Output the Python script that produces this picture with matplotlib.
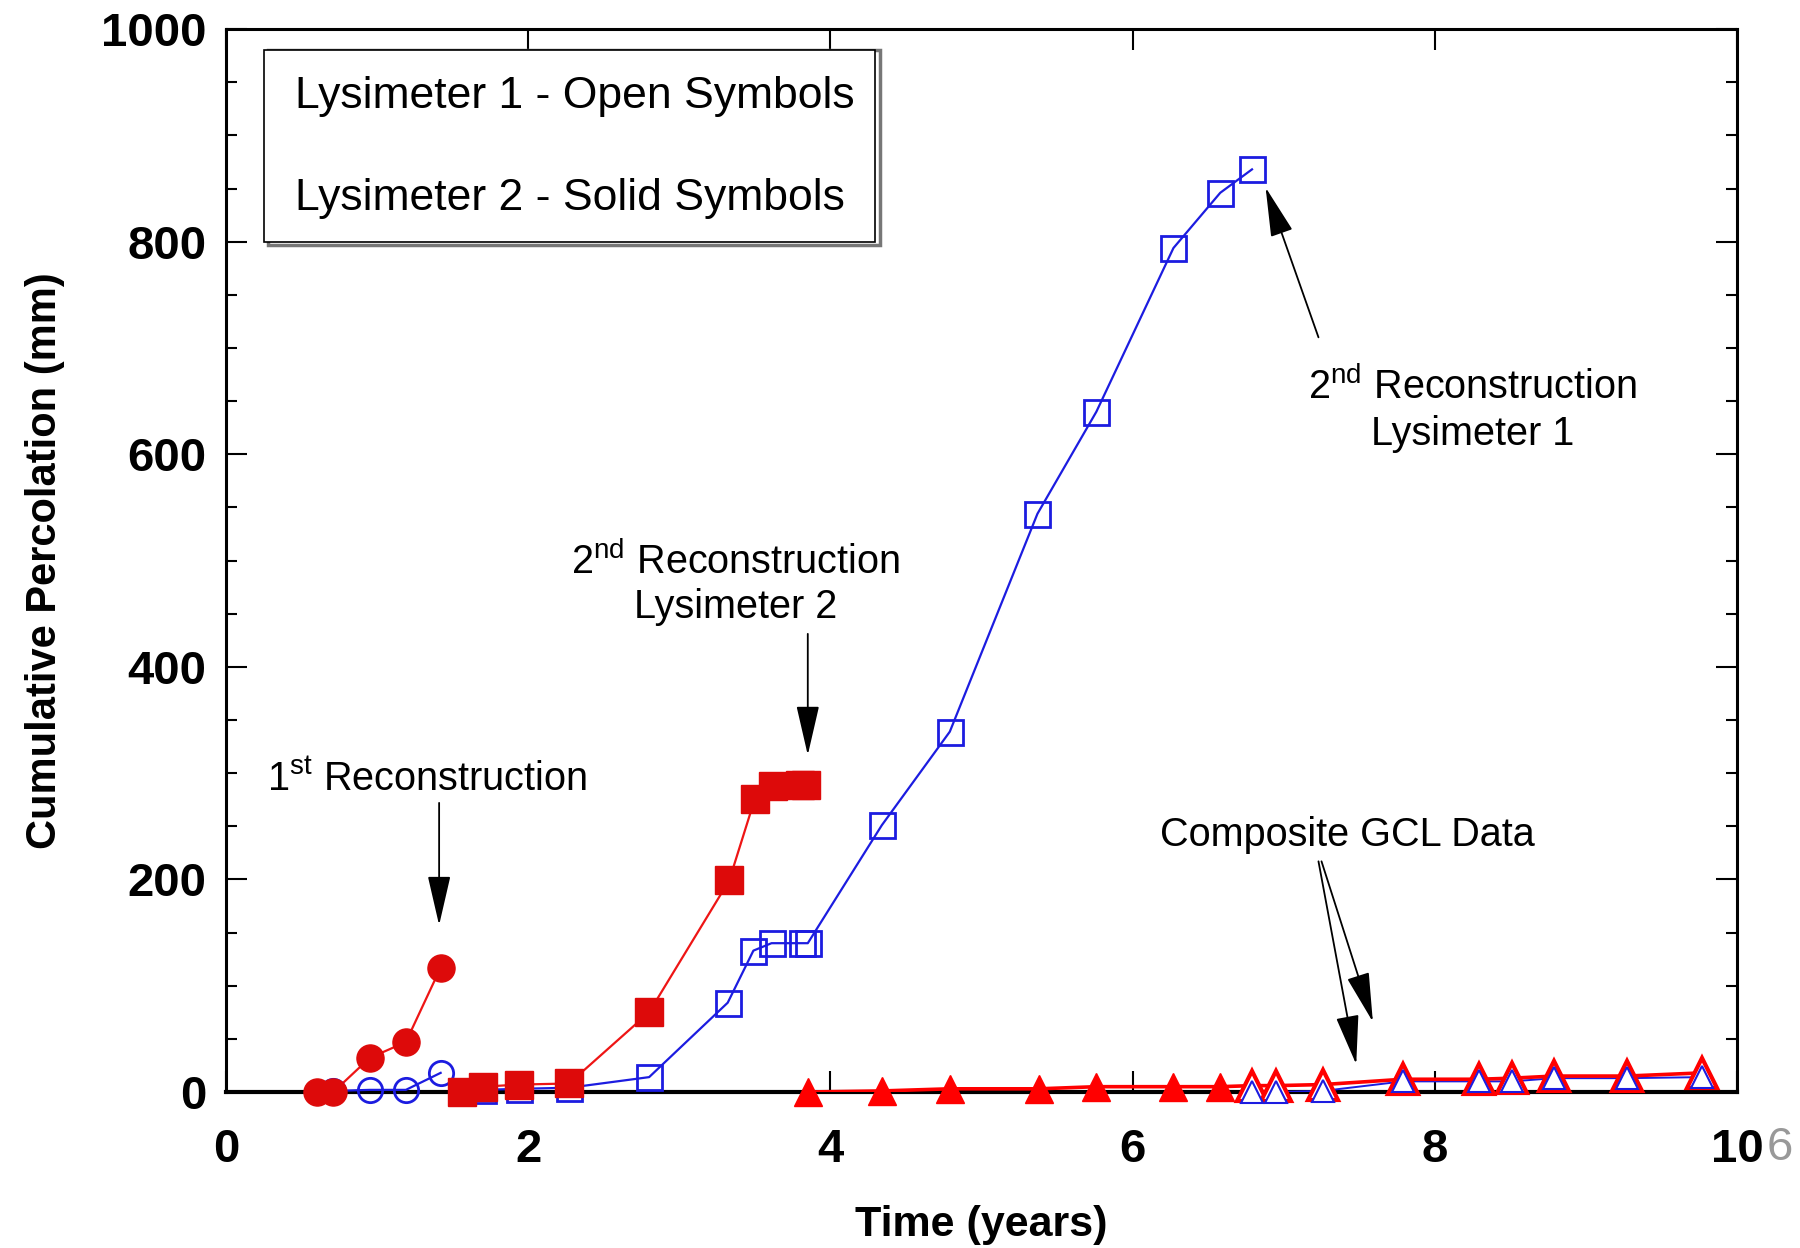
import matplotlib
matplotlib.use("Agg")
import matplotlib.pyplot as plt
from matplotlib.patches import Rectangle
from matplotlib.ticker import MultipleLocator

plt.rcParams['mathtext.fontset'] = 'custom'
plt.rcParams['mathtext.rm'] = 'Liberation Sans'
plt.rcParams['mathtext.it'] = 'Liberation Sans:italic'
plt.rcParams['mathtext.bf'] = 'Liberation Sans:bold'

NARROW = ['Liberation Sans Narrow', 'Liberation Sans', 'DejaVu Sans']
REG = ['Liberation Sans', 'DejaVu Sans']

# ---------------- data (time in years, cumulative percolation in mm) -------------
# 1st reconstruction
r1_lys2_t = [0.60, 0.71, 0.95, 1.19, 1.42]
r1_lys2_p = [0, 0, 32, 47, 117]
r1_lys1_t = [0.71, 0.95, 1.19, 1.42]
r1_lys1_p = [1, 2, 2, 18]

# 2nd reconstruction
r2_lys2_t = [1.56, 1.70, 1.94, 2.27, 2.80, 3.33, 3.50, 3.62, 3.80, 3.84]
r2_lys2_p = [0, 5, 7, 8, 75, 199, 276, 288, 289, 289]
r2_lys1_t = [1.70, 1.94, 2.27, 2.80, 3.32, 3.49, 3.61, 3.81, 3.85,
             4.34, 4.79, 5.37, 5.76, 6.27, 6.58, 6.79]
r2_lys1_p = [2, 3, 4, 14, 84, 133, 140, 140, 140,
             251, 339, 544, 640, 794, 846, 868]

# Composite GCL data
gcl_lys2_t = [3.85, 4.34, 4.79, 5.38, 5.76, 6.27, 6.58,
              6.79, 6.95, 7.26, 7.79, 8.29, 8.51, 8.79, 9.27, 9.77]
gcl_lys2_p = [0, 1, 3, 3, 5, 5, 5,
              6, 6, 7, 12, 12, 13, 15, 15, 18]
gcl_lys2_solid = 7  # first points drawn as solid symbols
gcl_lys1_t = [6.79, 6.95, 7.26, 7.79, 8.29, 8.51, 8.79, 9.27, 9.77]
gcl_lys1_p = [0, 0, 1, 10, 10, 10, 13, 13, 14]

x_ticks = [0, 2, 4, 6, 8, 10]
y_ticks = [0, 200, 400, 600, 800, 1000]

RED = '#dd0a0a'
RED_L = '#ee1515'
TRI_RED = '#ff0000'
BLUE = '#1c1ce0'

fig = plt.figure(figsize=(18, 12.48), dpi=100)
ax = fig.add_axes([0.1256, 0.125, 0.8394, 0.8517])

# lines + markers
ax.plot(r1_lys1_t, r1_lys1_p, '-', color=BLUE, lw=1.6, zorder=3)
ax.plot(r1_lys1_t, r1_lys1_p, 'o', ms=17.5, mfc='none', mec=BLUE, mew=2, zorder=4, clip_on=False)
ax.plot(r1_lys2_t, r1_lys2_p, '-', color=RED_L, lw=1.6, zorder=3)
ax.plot(r1_lys2_t, r1_lys2_p, 'o', ms=19.5, color=RED, zorder=5, clip_on=False)

ax.plot(r2_lys1_t, r2_lys1_p, '-', color=BLUE, lw=1.6, zorder=3)
ax.plot(r2_lys1_t, r2_lys1_p, 's', ms=18, mfc='none', mec=BLUE, mew=2, zorder=4, clip_on=False)
ax.plot(r2_lys2_t, r2_lys2_p, '-', color=RED_L, lw=1.6, zorder=3)
ax.plot(r2_lys2_t, r2_lys2_p, 's', ms=20, color=RED, zorder=5, clip_on=False)

ax.plot(gcl_lys1_t, gcl_lys1_p, '-', color=BLUE, lw=1.4, zorder=3)
ax.plot(gcl_lys2_t, gcl_lys2_p, '-', color=TRI_RED, lw=2.6, zorder=3)
ax.plot(gcl_lys2_t[:gcl_lys2_solid], gcl_lys2_p[:gcl_lys2_solid], '^', ms=20,
        color=TRI_RED, zorder=5, clip_on=False)
ax.plot(gcl_lys2_t[gcl_lys2_solid:], gcl_lys2_p[gcl_lys2_solid:], '^', ms=21,
        mfc='white', mec=TRI_RED, mew=3, zorder=5, clip_on=False)
ax.plot(gcl_lys1_t, gcl_lys1_p, '^', ms=16, mfc='white', mec=BLUE, mew=1.5,
        zorder=6, clip_on=False)

# axes styling
ax.set_xlim(0, 10)
ax.set_ylim(0, 1000)
ax.set_xticks(x_ticks)
ax.set_yticks(y_ticks)
ax.yaxis.set_minor_locator(MultipleLocator(50))
ax.tick_params(which='major', direction='in', length=15, width=1.5, top=True, right=True)
ax.tick_params(which='minor', direction='in', length=8, width=1.5, left=True, right=True)
ax.tick_params(axis='x', pad=26)
ax.tick_params(axis='y', pad=14)
for lab in ax.get_xticklabels() + ax.get_yticklabels():
    lab.set_fontfamily(NARROW)
    lab.set_fontsize(34)
    lab.set_fontweight('bold')
for s in ax.spines.values():
    s.set_linewidth(2.2)
ax.spines['bottom'].set_linewidth(3)

ax.set_xlabel('Time (years)', fontsize=31, fontweight='bold', family=NARROW, labelpad=24)
ax.set_ylabel('Cumulative Percolation (mm)', fontsize=30, fontweight='bold', family=NARROW, labelpad=26)

# stray gray "6" next to the last tick label
fig.text(0.989, 0.080, '6', color='#999999', fontsize=34, family=NARROW,
         ha='center', va='center')

# legend-like box
ax.add_patch(Rectangle((0.028, 0.797), 0.4045, 0.183, transform=ax.transAxes,
                       fill=False, ec='#777777', lw=2.5, zorder=6))
ax.add_patch(Rectangle((0.025, 0.800), 0.4045, 0.180, transform=ax.transAxes,
                       facecolor='white', ec='black', lw=1.2, zorder=7))
ax.text(0.0456, 0.9370, 'Lysimeter 1 - Open Symbols', transform=ax.transAxes,
        fontsize=32, family=REG, va='center', ha='left', zorder=8)
ax.text(0.0456, 0.8405, 'Lysimeter 2 - Solid Symbols', transform=ax.transAxes,
        fontsize=32, family=REG, va='center', ha='left', zorder=8)

# annotations
TXT = dict(fontsize=28.5, family=REG, zorder=8)
ax.text(0.27, 294, r'1$^{\mathrm{st}}$ Reconstruction', ha='left', va='center', **TXT)
ax.text(3.37, 499, r'2$^{\mathrm{nd}}$ Reconstruction', ha='center', va='center', **TXT)
ax.text(3.37, 456, 'Lysimeter 2', ha='center', va='center', **TXT)
ax.text(8.25, 663, r'2$^{\mathrm{nd}}$ Reconstruction', ha='center', va='center', **TXT)
ax.text(8.25, 619, 'Lysimeter 1', ha='center', va='center', **TXT)
ax.text(7.42, 242, 'Composite GCL Data', ha='center', va='center', **TXT)

AP = dict(arrowstyle='-|>,head_length=1.3,head_width=0.3', color='black', lw=1.3,
          mutation_scale=24, shrinkA=0, shrinkB=0)
ax.annotate('', xy=(1.41, 157), xytext=(1.41, 272), arrowprops=AP, zorder=8)
ax.annotate('', xy=(3.85, 317), xytext=(3.85, 431), arrowprops=AP, zorder=8)
ax.annotate('', xy=(6.88, 851), xytext=(7.23, 710), arrowprops=AP, zorder=8)
ax.annotate('', xy=(7.48, 26), xytext=(7.23, 217), arrowprops=AP, zorder=8)
ax.annotate('', xy=(7.59, 66), xytext=(7.25, 217), arrowprops=AP, zorder=8)

fig.savefig('out.png', dpi=100)
